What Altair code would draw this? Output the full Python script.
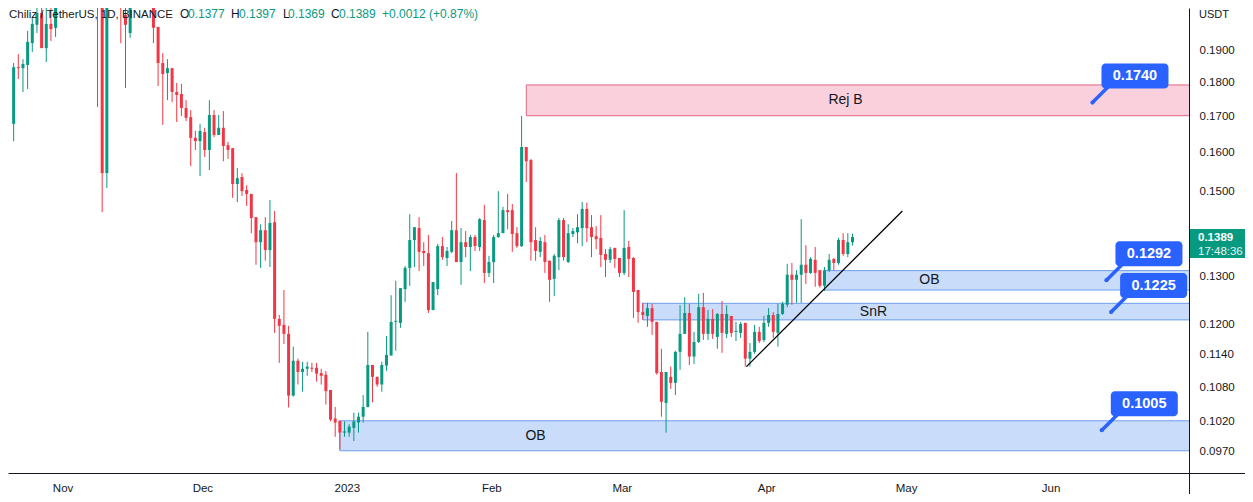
import altair as alt
import pandas as pd

# ---------------- data ----------------
START = "2022-10-21"  # first visible daily candle
opens = [0.1679, 0.1846, 0.1843, 0.1853, 0.1922, 0.1982, 0.2022, 0.1906, 0.1985, 0.1972,
         None, None, None, None, None, None, None, None,
         0.2400, 0.2150, 0.1546,
         None,
         0.2150, 0.2200, 0.2015, 0.1955,
         None, None, None, None,
         0.2120, 0.1975, 0.1859, 0.1828, 0.1843, 0.1771, 0.1765, 0.1724, 0.1698, 0.1640,
         0.1631, 0.1656, 0.1607, 0.1704, 0.1648, 0.1668, 0.1620, 0.1612, 0.1518, 0.1536,
         0.1503, 0.1493, 0.1436, 0.1377, 0.1405, 0.1359, 0.1424, 0.1211, 0.1199, 0.1181,
         0.1065, 0.1129, 0.1108, 0.1114, 0.1116, 0.1116, 0.1106, 0.1103, 0.1075, 0.1025,
         0.1021, 0.1001, 0.1001, 0.1009, 0.1018, 0.1028, 0.1045, 0.1121, 0.1099, 0.1085,
         0.1120, 0.1139, 0.1205, 0.1203, 0.1273, 0.1319, 0.1382, 0.1410, 0.1357, 0.1352,
         0.1229, 0.1273, 0.1368, 0.1341, 0.1355, 0.1405, 0.1332, 0.1377, 0.1366, 0.1389,
         0.1366, 0.1429, 0.1308, 0.1332, 0.1389, 0.1398, 0.1453, 0.1453, 0.1398, 0.1368,
         0.1615, 0.1580, 0.1382, 0.1355, 0.1377, 0.1335, 0.1295, 0.1343, 0.1429, 0.1332,
         0.1396, 0.1400, 0.1410, 0.1456, 0.1412, 0.1391, 0.1387, 0.1350, 0.1337, 0.1364,
         0.1341, 0.1308, 0.1366, 0.1341, 0.1271, 0.1225, 0.1217, 0.1233, 0.1205, 0.1108,
         0.1052, 0.1099, 0.1088, 0.1146, 0.1181, 0.1223, 0.1137, 0.1165, 0.1235, 0.1181,
         0.1211, 0.1175, 0.1221, 0.1181, 0.1217, 0.1185, 0.1183, 0.1203, 0.1133, 0.1146,
         0.1185, 0.1169, 0.1203, 0.1219, 0.1183, 0.1221, 0.1240, 0.1304, 0.1293, 0.1304,
         0.1326, 0.1308, 0.1337, 0.1314, 0.1280, 0.1314, 0.1339, 0.1330, 0.1382, 0.1350,
         0.1377]
highs = [0.1859, 0.1887, 0.1871, 0.1962, 0.2008, 0.2075, 0.2090, 0.2080, 0.2085, 0.2150,
         None, None, None, None, None, None, None, None,
         0.2450, 0.2200, 0.2180,
         None,
         0.2200, 0.2250, 0.2120, 0.2160,
         None, None, None, None,
         0.2150, 0.1975, 0.1890, 0.1871, 0.1843, 0.1798, 0.1795, 0.1747, 0.1718, 0.1659,
         0.1679, 0.1668, 0.1747, 0.1718, 0.1704, 0.1715, 0.1629, 0.1612, 0.1559, 0.1546,
         0.1515, 0.1493, 0.1436, 0.1419, 0.1436, 0.1478, 0.1451, 0.1219, 0.1271, 0.1197,
         0.1156, 0.1133, 0.1127, 0.1127, 0.1125, 0.1125, 0.1114, 0.1110, 0.1075, 0.1045,
         0.1021, 0.1020, 0.1015, 0.1035, 0.1035, 0.1066, 0.1185, 0.1121, 0.1099, 0.1127,
         0.1177, 0.1260, 0.1291, 0.1275, 0.1323, 0.1443, 0.1412, 0.1436, 0.1377, 0.1394,
         0.1288, 0.1373, 0.1389, 0.1366, 0.1427, 0.1546, 0.1410, 0.1403, 0.1394, 0.1394,
         0.1434, 0.1466, 0.1346, 0.1394, 0.1500, 0.1461, 0.1493, 0.1468, 0.1412, 0.1701,
         0.1615, 0.1583, 0.1412, 0.1389, 0.1394, 0.1335, 0.1350, 0.1434, 0.1434, 0.1419,
         0.1410, 0.1443, 0.1473, 0.1471, 0.1441, 0.1415, 0.1441, 0.1361, 0.1366, 0.1364,
         0.1341, 0.1453, 0.1380, 0.1343, 0.1271, 0.1244, 0.1244, 0.1242, 0.1205, 0.1152,
         0.1108, 0.1118, 0.1148, 0.1239, 0.1256, 0.1242, 0.1185, 0.1263, 0.1265, 0.1229,
         0.1231, 0.1223, 0.1248, 0.1239, 0.1217, 0.1205, 0.1205, 0.1203, 0.1163, 0.1199,
         0.1195, 0.1217, 0.1233, 0.1225, 0.1242, 0.1246, 0.1328, 0.1330, 0.1314, 0.1431,
         0.1370, 0.1343, 0.1366, 0.1314, 0.1321, 0.1350, 0.1341, 0.1387, 0.1398, 0.1398,
         0.1397]
lows = [0.1631, 0.1810, 0.1771, 0.1780, 0.1894, 0.1955, 0.1906, 0.1862, 0.1929, 0.1942,
        None, None, None, None, None, None, None, None,
        0.1727, 0.1448, 0.1508,
        None,
        0.2049, 0.1922, 0.1783, 0.1939,
        None, None, None, None,
        0.1922, 0.1789, 0.1676, 0.1747, 0.1741, 0.1684, 0.1701, 0.1687, 0.1564, 0.1607,
        0.1538, 0.1588, 0.1554, 0.1642, 0.1648, 0.1577, 0.1583, 0.1483, 0.1473, 0.1488,
        0.1463, 0.1398, 0.1326, 0.1319, 0.1335, 0.1321, 0.1183, 0.1125, 0.1161, 0.1044,
        0.1063, 0.1085, 0.1072, 0.1101, 0.1108, 0.1090, 0.1085, 0.1049, 0.1020, 0.0994,
        0.0973, 0.0994, 0.0994, 0.0987, 0.1001, 0.1018, 0.1044, 0.1053, 0.1081, 0.1072,
        0.1110, 0.1139, 0.1148, 0.1193, 0.1246, 0.1280, 0.1321, 0.1312, 0.1323, 0.1223,
        0.1229, 0.1260, 0.1337, 0.1323, 0.1352, 0.1332, 0.1282, 0.1343, 0.1312, 0.1357,
        0.1357, 0.1286, 0.1299, 0.1286, 0.1387, 0.1398, 0.1407, 0.1355, 0.1364, 0.1366,
        0.1523, 0.1335, 0.1335, 0.1343, 0.1308, 0.1246, 0.1258, 0.1314, 0.1335, 0.1330,
        0.1389, 0.1375, 0.1368, 0.1377, 0.1343, 0.1361, 0.1321, 0.1299, 0.1330, 0.1319,
        0.1299, 0.1303, 0.1299, 0.1213, 0.1203, 0.1209, 0.1195, 0.1179, 0.1103, 0.1028,
        0.1001, 0.1077, 0.1066, 0.1112, 0.1181, 0.1121, 0.1123, 0.1163, 0.1169, 0.1169,
        0.1171, 0.1152, 0.1144, 0.1173, 0.1175, 0.1167, 0.1173, 0.1118, 0.1118, 0.1142,
        0.1163, 0.1165, 0.1195, 0.1173, 0.1156, 0.1219, 0.1235, 0.1240, 0.1244, 0.1244,
        0.1284, 0.1306, 0.1278, 0.1276, 0.1269, 0.1310, 0.1314, 0.1326, 0.1346, 0.1343,
        0.1369]
closes = [0.1846, 0.1843, 0.1856, 0.1926, 0.1985, 0.2022, 0.1906, 0.1985, 0.1968, 0.2100,
          None, None, None, None, None, None, None, None,
          0.2150, 0.1546, 0.2120,
          None,
          0.2049, 0.2120, 0.1982, 0.2110,
          None, None, None, None,
          0.1972, 0.1859, 0.1825, 0.1843, 0.1771, 0.1762, 0.1724, 0.1696, 0.1640, 0.1631,
          0.1659, 0.1607, 0.1704, 0.1648, 0.1668, 0.1618, 0.1607, 0.1518, 0.1533, 0.1500,
          0.1493, 0.1434, 0.1377, 0.1405, 0.1359, 0.1422, 0.1211, 0.1197, 0.1181, 0.1065,
          0.1129, 0.1108, 0.1114, 0.1118, 0.1114, 0.1105, 0.1101, 0.1073, 0.1023, 0.1018,
          0.1001, 0.1003, 0.1011, 0.1020, 0.1028, 0.1045, 0.1121, 0.1099, 0.1085, 0.1121,
          0.1140, 0.1205, 0.1207, 0.1275, 0.1319, 0.1382, 0.1412, 0.1355, 0.1352, 0.1229,
          0.1288, 0.1368, 0.1343, 0.1357, 0.1405, 0.1332, 0.1377, 0.1366, 0.1389, 0.1368,
          0.1431, 0.1308, 0.1332, 0.1389, 0.1398, 0.1453, 0.1448, 0.1396, 0.1368, 0.1615,
          0.1577, 0.1377, 0.1357, 0.1380, 0.1332, 0.1293, 0.1346, 0.1429, 0.1343, 0.1398,
          0.1403, 0.1412, 0.1456, 0.1410, 0.1389, 0.1384, 0.1348, 0.1337, 0.1361, 0.1339,
          0.1308, 0.1364, 0.1339, 0.1267, 0.1225, 0.1219, 0.1233, 0.1205, 0.1106, 0.1054,
          0.1108, 0.1088, 0.1146, 0.1181, 0.1223, 0.1137, 0.1165, 0.1235, 0.1181, 0.1211,
          0.1181, 0.1221, 0.1183, 0.1221, 0.1183, 0.1187, 0.1201, 0.1133, 0.1146, 0.1185,
          0.1167, 0.1203, 0.1219, 0.1185, 0.1221, 0.1242, 0.1304, 0.1293, 0.1304, 0.1326,
          0.1308, 0.1339, 0.1308, 0.1280, 0.1314, 0.1337, 0.1330, 0.1382, 0.1350, 0.1377,
          0.1389]

month_starts = ["2022-11-01", "2022-12-01", "2023-01-01", "2023-02-01",
                "2023-03-01", "2023-04-01", "2023-05-01", "2023-06-01"]
month_labels = ["Nov", "Dec", "2023", "Feb", "Mar", "Apr", "May", "Jun"]
price_ticks = [0.097, 0.102, 0.108, 0.114, 0.12, 0.13, 0.15, 0.16, 0.17, 0.18, 0.19]

zone_names = ["Rej B", "OB", "SnR", "OB"]
zone_kinds = ["rej", "ob", "ob", "ob"]
zone_start = ["2023-02-08T12:00", "2023-04-13T12:00", "2023-03-05T12:00", "2022-12-30T12:00"]
zone_top = [0.1792, 0.1313, 0.1243, 0.1021]
zone_bottom = [0.1702, 0.1271, 0.1209, 0.0971]
zone_label_at = ["2023-04-18T00:00", "2023-05-06T00:00", "2023-04-24T00:00", "2023-02-10T12:00"]

callout_values = [0.1740, 0.1292, 0.1225, 0.1005]
callout_dates = ["2023-06-10T00:00", "2023-06-13T00:00", "2023-06-14T00:00", "2023-06-12T00:00"]

trend_dates = ["2023-03-27T18:00", "2023-04-30T05:00"]
trend_prices = [0.1118, 0.1451]

last_price = 0.1389
countdown = "17:48:36"
legend_parts = [("Chiliz / TetherUS, 1D, BINANCE", "dark"), ("O", "dark"), ("0.1377", "up"),
                ("H", "dark"), ("0.1397", "up"), ("L", "dark"), ("0.1369", "up"),
                ("C", "dark"), ("0.1389", "up"), ("+0.0012 (+0.87%)", "up")]

# ---------------- build tables ----------------
ORIGIN = pd.Timestamp("2022-11-01")
DAY = pd.Timedelta(days=1)


def days(s):
    return (pd.to_datetime(pd.Series(s), format="ISO8601") - ORIGIN) / DAY


dates = pd.date_range(START, periods=len(opens), freq="D") + pd.Timedelta(hours=12)
candles = pd.DataFrame({"date": dates, "open": opens, "high": highs,
                        "low": lows, "close": closes}).dropna().reset_index(drop=True)
candles["u"] = (candles["date"] - ORIGIN) / DAY
candles["dir"] = ["up" if c >= o else "down" for o, c in zip(candles["open"], candles["close"])]
candles = candles.drop(columns=["date"])

tick_days = [int(round(v)) for v in days(month_starts)]

zones = pd.DataFrame({"name": zone_names, "kind": zone_kinds, "top": zone_top,
                      "bottom": zone_bottom})
zones["u0"] = days(zone_start).values
zones["u1"] = 270.0
zones["ul"] = days(zone_label_at).values
zones["mid"] = (zones["top"] * zones["bottom"]) ** 0.5

callouts = pd.DataFrame({"val": callout_values})
callouts["u"] = days(callout_dates).values
callouts["label"] = [f"{v:.4f}" for v in callout_values]

trend = pd.DataFrame({"u": days(trend_dates).values, "p": trend_prices})
lastdf = pd.DataFrame({"p": [last_price], "t1": [f"{last_price:.4f}"], "t2": [countdown]})

# ---------------- style / layout ----------------
W, H = 1181, 465
PR, PB = 56, 21          # right / bottom room for the axes (page stays within the window)
UP, DOWN, DARK = "#089981", "#f23645", "#131722"
FONT = "Liberation Sans"

xs = alt.Scale(domain=[-10.638, 240.64], nice=False, zero=False)
ys = alt.Scale(type="log", domain=[0.093549, 0.20385], nice=False, zero=False)

label_expr = " : ".join(f"round(datum.value) == {d} ? '{l}'"
                        for d, l in zip(tick_days, month_labels)) + " : ''"
xaxis = alt.Axis(values=tick_days, labelExpr=label_expr, ticks=False, grid=False,
                 domainColor=DARK, domainWidth=1, labelFont=FONT, labelFontSize=11.5,
                 labelColor=DARK, labelPadding=9, labelOverlap=False, labelFlush=False)
yaxis = alt.Axis(orient="right", values=price_ticks, format=".4f", ticks=False, grid=False,
                 domainColor=DARK, domainWidth=1, labelFont=FONT, labelFontSize=11.5,
                 labelColor=DARK, labelPadding=10, labelOverlap=False, labelFlush=False)


def X(f):
    return alt.X(f, type="quantitative", scale=xs, axis=xaxis, title=None)


def Y(f):
    return alt.Y(f, type="quantitative", scale=ys, axis=yaxis, title=None)


dircol = alt.Color("dir:N", scale=alt.Scale(domain=["up", "down"], range=[UP, DOWN]), legend=None)

zone_rects = alt.Chart(zones).mark_rect(clip=True, strokeWidth=1).encode(
    x=X("u0"), x2="u1", y=Y("top"), y2="bottom",
    fill=alt.Fill("kind:N", scale=alt.Scale(domain=["rej", "ob"], range=["#fad0dc", "#c9dcfa"]), legend=None),
    stroke=alt.Stroke("kind:N", scale=alt.Scale(domain=["rej", "ob"], range=["#e0647f", "#6d9ef0"]), legend=None),
)
zone_text = alt.Chart(zones).mark_text(font=FONT, fontSize=14, color=DARK, baseline="middle").encode(
    x=X("ul"), y=Y("mid"), text="name:N")

base = alt.Chart(candles)
wicks = base.mark_rule(strokeWidth=1, clip=True).encode(x=X("u"), y=Y("low"), y2="high", color=dircol)
bodies = base.mark_bar(size=3, clip=True).encode(x=X("u"), y=Y("open"), y2="close", color=dircol)

trend_line = alt.Chart(trend).mark_line(color="#000000", strokeWidth=1.3, clip=True).encode(
    x=X("u"), y=Y("p"))

BLUE = "#2962ff"
c_base = alt.Chart(callouts)
c_pointer = c_base.mark_rule(color=BLUE, strokeWidth=3.5, x2Offset=16, y2Offset=-16).encode(
    x=X("u"), x2="u", y=Y("val"), y2="val")
c_dot = c_base.mark_circle(color=BLUE, size=18, opacity=1).encode(x=X("u"), y=Y("val"))
c_box = c_base.mark_rect(color=BLUE, cornerRadius=4, xOffset=9, x2Offset=76,
                         yOffset=-39, y2Offset=-14).encode(x=X("u"), x2="u", y=Y("val"), y2="val")
c_text = c_base.mark_text(color="white", font=FONT, fontSize=14.5, fontWeight="bold",
                          dx=42.5, dy=-26.5, align="center", baseline="middle").encode(
    x=X("u"), y=Y("val"), text="label:N")

l_base = alt.Chart(lastdf)
l_box = l_base.mark_rect(color=UP, yOffset=-8, y2Offset=21).encode(
    x=alt.value(W + 1), x2=alt.value(W + PR), y=Y("p"), y2="p")
l_t1 = l_base.mark_text(color="white", font=FONT, fontSize=11.5, fontWeight="bold",
                        align="left", baseline="middle", dy=0.5).encode(
    x=alt.value(W + 9), y=Y("p"), text="t1:N")
l_t2 = l_base.mark_text(color="#e6f5f1", font=FONT, fontSize=11.5,
                        align="left", baseline="middle", dy=14.5).encode(
    x=alt.value(W + 9), y=Y("p"), text="t2:N")

one = pd.DataFrame({"a": [0]})
legend_x = [1, 172, 180, 223, 231, 275, 280, 323, 331, 374]
legend_layers = []
for (txt, kind), px in zip(legend_parts, legend_x):
    legend_layers.append(
        alt.Chart(one).mark_text(font=FONT, fontSize=11.5 if px < 10 else 12, align="left",
                                 baseline="top", color=DARK if kind == "dark" else UP).encode(
            x=alt.value(px), y=alt.value(1), text=alt.value(txt)))

usdt = alt.Chart(one).mark_text(font=FONT, fontSize=11, align="left", baseline="top",
                                color=DARK).encode(x=alt.value(W + 10), y=alt.value(1),
                                                   text=alt.value("USDT"))
hline_ext = alt.Chart(one).mark_rule(color=DARK, strokeWidth=1).encode(
    x=alt.value(W), x2=alt.value(W + PR), y=alt.value(H + 0.5))
vline_ext = alt.Chart(one).mark_rule(color=DARK, strokeWidth=1).encode(
    x=alt.value(W + 0.5), y=alt.value(H), y2=alt.value(H + PB))

chart = alt.layer(
    zone_rects, zone_text, wicks, bodies, trend_line,
    c_pointer, c_box, c_dot, c_text, l_box, l_t1, l_t2,
    *legend_layers, usdt, hline_ext, vline_ext,
).properties(
    width=W, height=H,
    autosize=alt.AutoSizeParams(type="none"),
    padding={"left": 0, "top": 0, "right": PR, "bottom": PB},
    background="white",
).configure_view(strokeWidth=0)

chart.save("out.html", embed_options={"renderer": "svg", "actions": False})
